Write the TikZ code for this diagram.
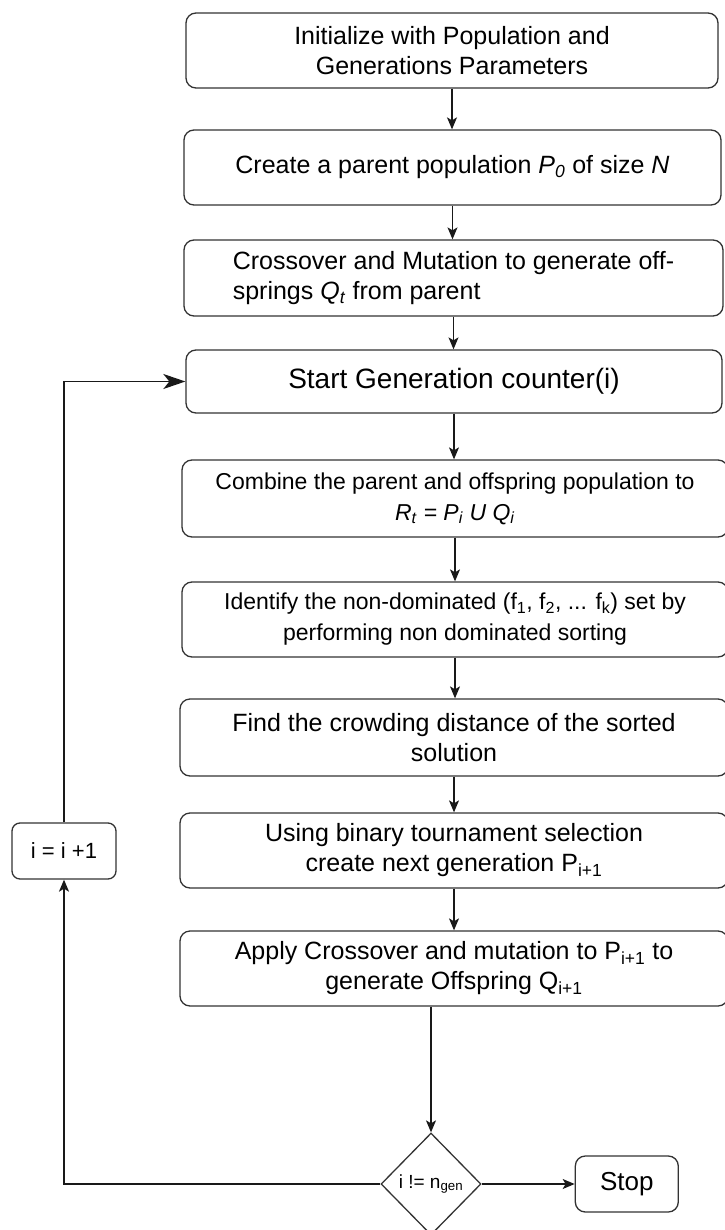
\documentclass[tikz,border=0pt]{standalone}
\usepackage{fontspec}
\setmainfont{Liberation Sans}
\usetikzlibrary{positioning}
\usetikzlibrary{shapes.geometric}
\usetikzlibrary{arrows.meta}
\tikzset{
	stepbox/.style={draw=black!80, line width=1.3pt, rounded corners=10pt, inner sep=0pt, align=center, minimum height=75pt, font=\fontsize{25}{30}\selectfont},
	smalltext/.style={font=\fontsize{23}{31}\selectfont},
	flow/.style={draw=black!90, line width=1.2pt, -{Stealth[length=12pt,width=10pt,inset=3pt]}},
	loopline/.style={draw=black!90, line width=1.8pt},
}
\begin{document}
\begin{tikzpicture}[x=1pt, y=-1pt]
		\useasboundingbox (0,0) rectangle (724,1230);
		\node[stepbox, minimum width=532pt] (init) at (452,50.5) {Initialize with Population and\\Generations Parameters};
		\node[stepbox, minimum width=537pt] (create) at (452.5,167.5) {Create a parent population \textit{P}\textsubscript{\textit{0}} of size \textit{N}};
		\node[stepbox, minimum width=539pt, minimum height=76pt, align=left] (cross) at (453.5,278) {Crossover and Mutation to generate off-\\springs \textit{Q}\textsubscript{\textit{t}} from parent};
		\node[stepbox, minimum width=536pt, minimum height=63pt, font=\fontsize{28}{33}\selectfont] (start) at (454,381.5) {Start Generation counter(i)};
		\node[stepbox, smalltext, minimum width=546pt, minimum height=77pt] (combine) at (455,498.5) {Combine the parent and offspring population to\\\textit{R}\textsubscript{\textit{t}} \textit{= P}\textsubscript{\textit{i}} \textit{U Q}\textsubscript{\textit{i}}};
		\node[stepbox, smalltext, minimum width=546pt] (identify) at (455,619.5) {Identify the non-dominated (f\textsubscript{1}, f\textsubscript{2}, ... f\textsubscript{k}) set by\\performing non dominated sorting};
		\node[stepbox, minimum width=548pt, minimum height=77pt] (crowd) at (454,737.5) {Find the crowding distance of the sorted\\solution};
		\node[stepbox, minimum width=548pt] (select) at (454,850.5) {Using binary tournament selection\\create next generation P\textsubscript{i+1}};
		\node[stepbox, minimum width=548pt] (apply) at (454,968.5) {Apply Crossover and mutation to P\textsubscript{i+1} to\\generate Offspring Q\textsubscript{i+1}};
		\node[diamond, draw=black!80, line width=1.3pt, inner sep=0pt, minimum width=100pt, minimum height=102pt, font=\fontsize{19}{22}\selectfont] (check) at (431,1184) {i != n\textsubscript{gen}};
		\node[stepbox, minimum width=103pt, minimum height=56pt, right=93pt of check, font=\fontsize{26}{30}\selectfont] (stop) {Stop};
		\node[stepbox, minimum width=104pt, minimum height=56pt, rounded corners=8pt, font=\fontsize{22}{26}\selectfont] (incr) at (64,851) {i = i +1};

		\draw[flow] (init.south) -- (init.south |- create.north);
		\draw[flow] (create.south) -- (create.south |- cross.north);
		\draw[flow] (cross.south) -- (cross.south |- start.north);
		\draw[flow] (start.south) -- (start.south |- combine.north);
		\draw[flow] (combine.south) -- (combine.south |- identify.north);
		\draw[flow] (identify.south) -- (identify.south |- crowd.north);
		\draw[flow] (crowd.south) -- (crowd.south |- select.north);
		\draw[flow] (select.south) -- (select.south |- apply.north);
		\draw[flow] (check.north |- apply.south) -- (check.north);
		\draw[flow] (check.east) -- (stop.west);
		\draw[flow, loopline] (check.west) -| (incr.south);
		\draw[loopline, -{Stealth[length=22pt,width=15pt,inset=6pt]}] (incr.north) |- (start.west);
	\end{tikzpicture}
\end{document}
